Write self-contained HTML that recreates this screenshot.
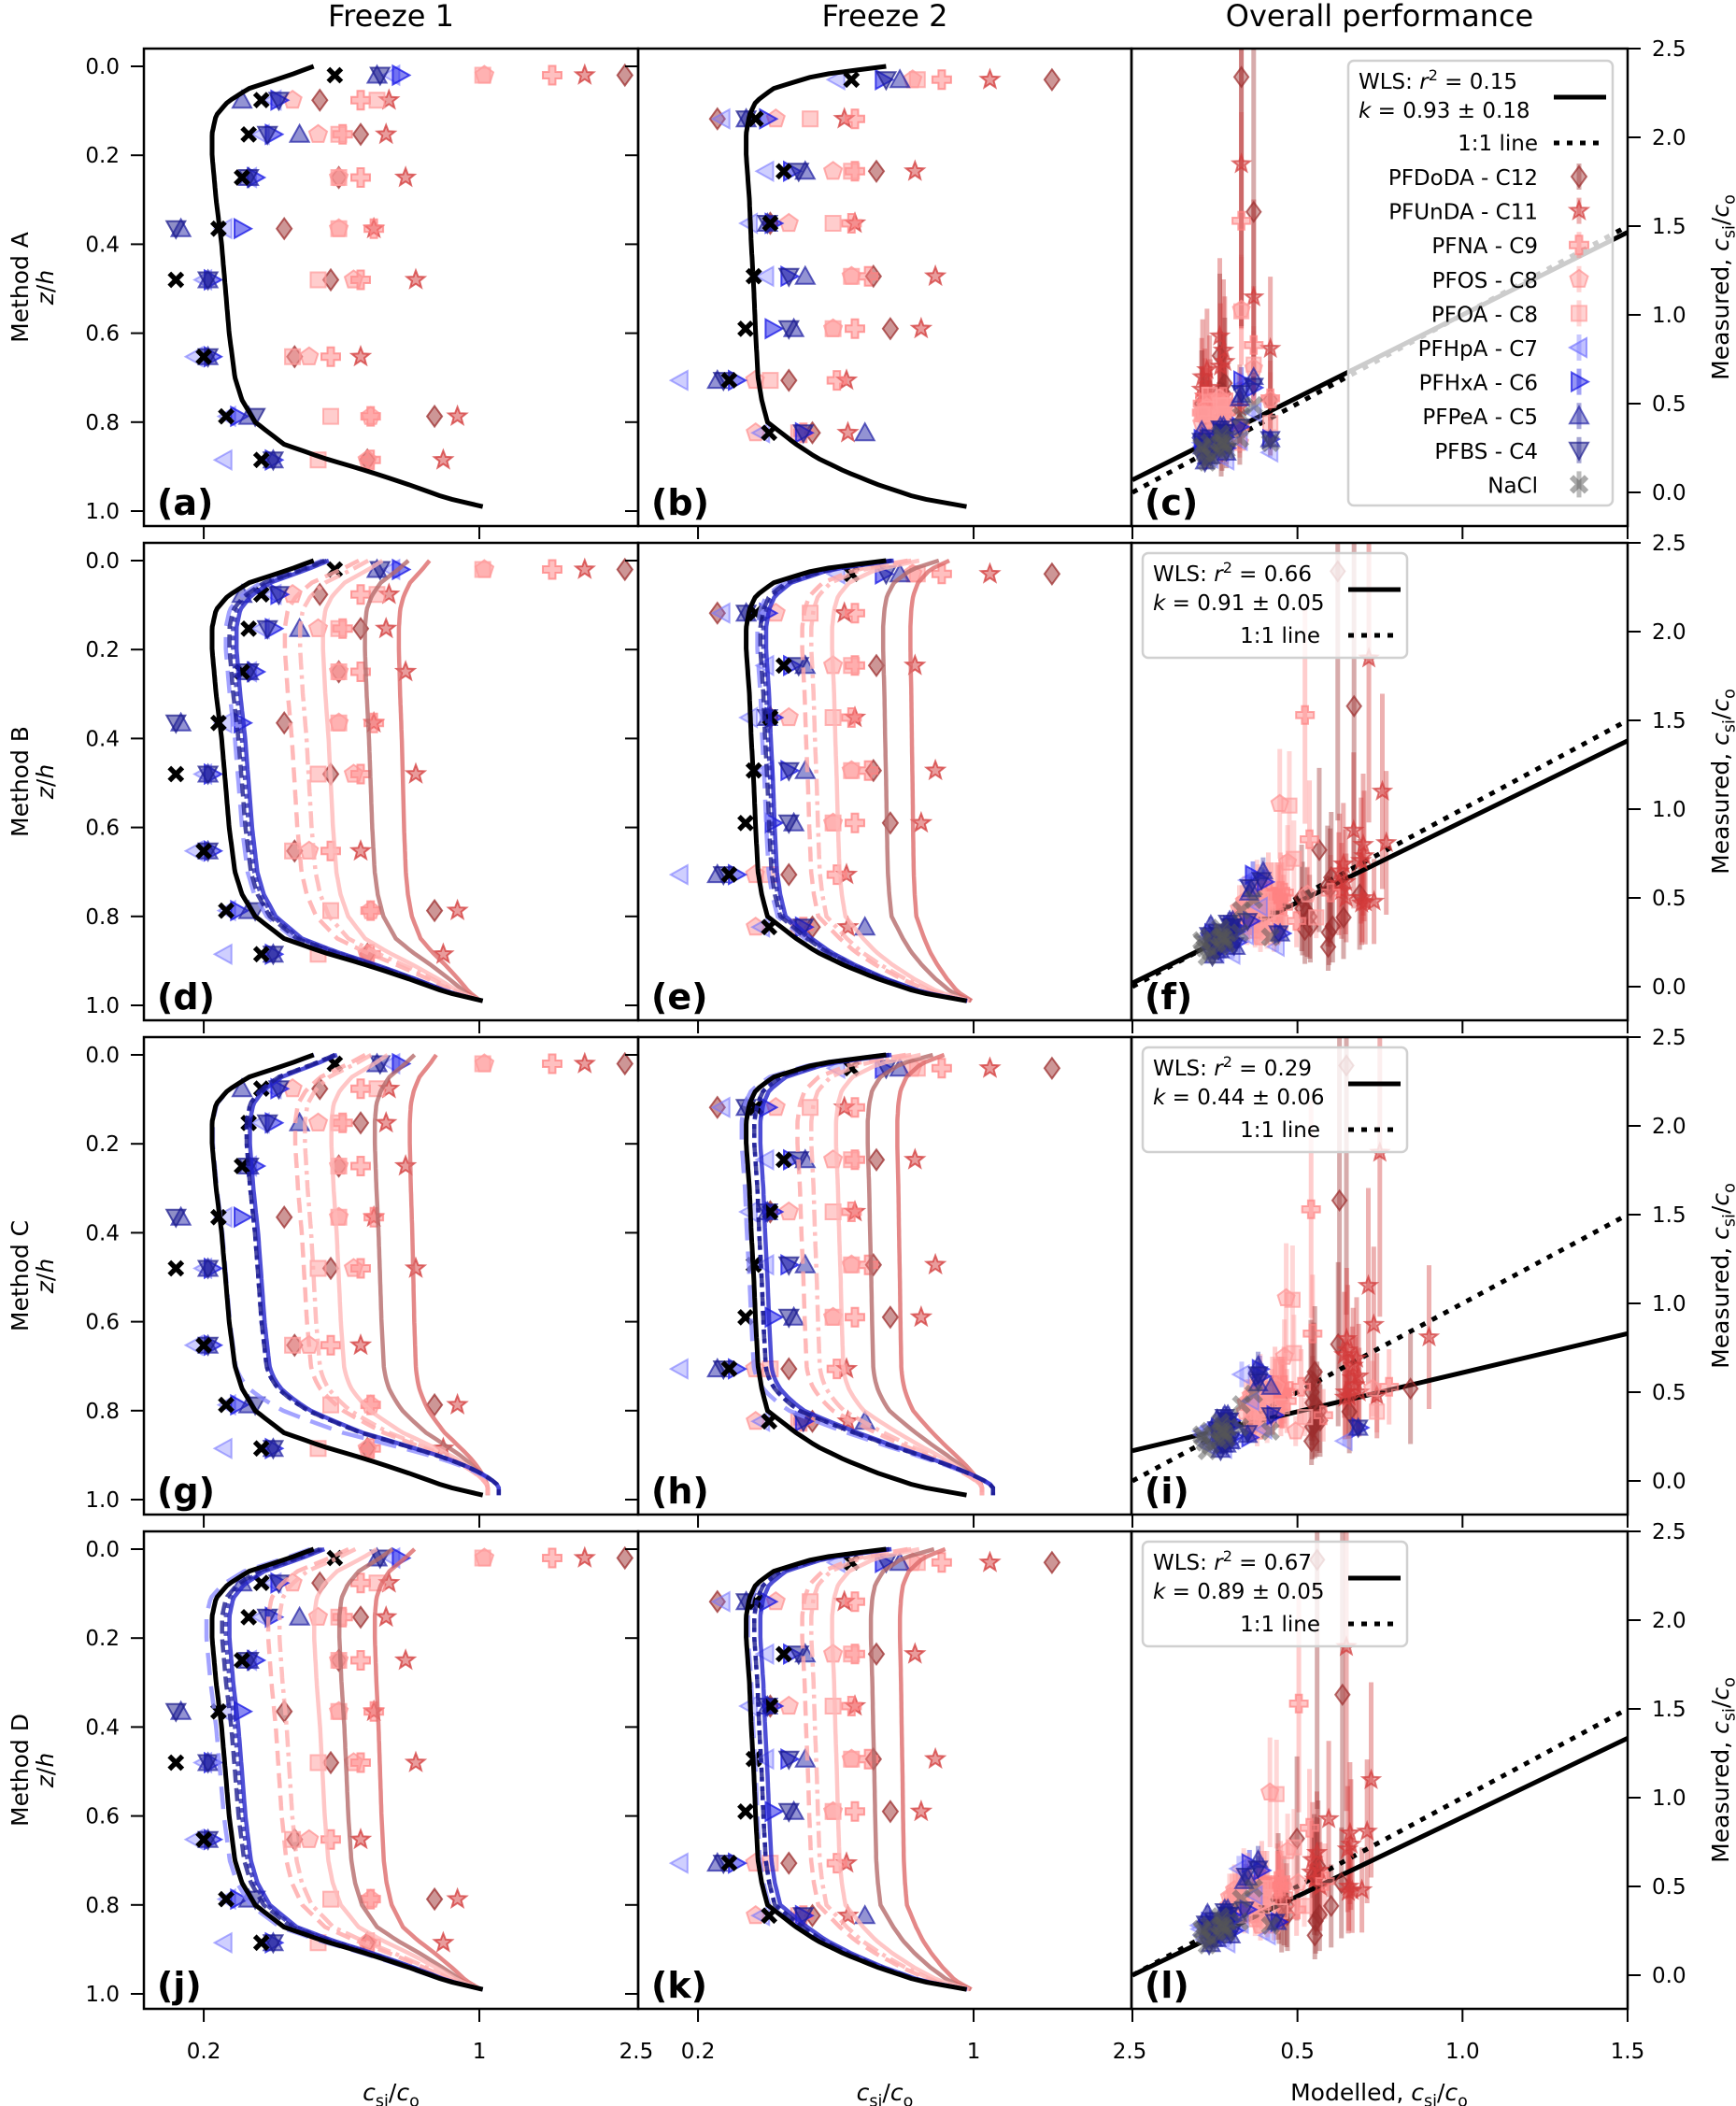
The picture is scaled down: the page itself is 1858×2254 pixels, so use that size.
<!DOCTYPE html>
<html><head><meta charset="utf-8"><style>
html,body{margin:0;padding:0;background:#fff;}
svg{display:block;font-family:"DejaVu Sans","Liberation Sans",sans-serif;}
</style></head><body>
<svg id="fig" xmlns="http://www.w3.org/2000/svg" width="1858" height="2254" viewBox="0 0 1858 2254"></svg>
<script>
// ---------- DATA ----------
const compounds = ['NaCl','PFBS','PFPeA','PFHxA','PFHpA','PFOA','PFOS','PFNA','PFUnDA','PFDoDA'];
const legendLabels = ['NaCl','PFBS - C4','PFPeA - C5','PFHxA - C6','PFHpA - C7','PFOA - C8','PFOS - C8','PFNA - C9','PFUnDA - C11','PFDoDA - C12'];
const methods = ['A','B','C','D'];
const f1Depths = [0.02,0.076,0.153,0.25,0.365,0.48,0.653,0.787,0.885];
const f1NaCl   = [0.43,0.28,0.26,0.25,0.218,0.17,0.2,0.228,0.28];
const f1PFBS   = [0.56,0.31,0.29,0.26,0.17,0.205,0.205,0.27,0.30];
const f1PFPeA  = [0.55,0.25,0.35,0.26,0.175,0.205,0.205,0.26,0.30];
const f1PFHxA  = [0.63,0.31,0.30,0.27,0.25,0.21,0.21,0.245,0.30];
const f1PFHpA  = [0.60,0.30,0.28,0.26,0.225,0.20,0.19,0.23,0.225];
const f1PFOA   = [1.02,0.55,0.44,0.44,0.44,0.39,0.336,0.42,0.39];
const f1PFOS   = [1.03,0.336,0.39,0.44,0.44,0.48,0.37,0.53,0.52];
const f1PFNA   = [1.53,0.50,0.45,0.50,0.54,0.50,0.42,0.53,0.53];
const f1PFUnDA = [1.85,0.59,0.58,0.65,0.54,0.69,0.50,0.88,0.81];
const f1PFDoDA = [2.34,0.394,0.50,0.44,0.32,0.42,0.34,0.77,0.52];
const f2Depths = [0.03,0.118,0.236,0.353,0.472,0.59,0.706,0.824];
const f2NaCl   = [0.49,0.28,0.33,0.305,0.277,0.264,0.24,0.303];
const f2PFBS   = [0.60,0.265,0.36,0.30,0.34,0.34,0.232,0.37];
const f2PFPeA  = [0.65,0.265,0.374,0.30,0.374,0.35,0.224,0.53];
const f2PFHxA  = [0.59,0.30,0.345,0.31,0.34,0.31,0.25,0.37];
const f2PFHpA  = [0.45,0.23,0.297,0.27,0.297,null,0.18,0.29];
const f2PFOA   = [0.72,0.385,0.49,0.44,0.49,0.44,0.305,0.36];
const f2PFOS   = [0.70,0.315,0.44,0.34,0.49,0.44,0.279,0.28];
const f2PFNA   = [0.83,0.50,0.50,0.49,0.54,0.50,0.45,0.37];
const f2PFUnDA = [1.10,0.47,0.71,0.50,0.80,0.736,0.476,0.48];
const f2PFDoDA = [1.58,0.224,0.567,0.305,0.557,0.615,0.34,0.39];
// model NaCl profiles
const zGrid  = [0,0.02,0.05,0.08,0.11,0.15,0.2,0.3,0.4,0.5,0.6,0.7,0.75,0.8,0.85,0.88,0.91,0.94,0.97,0.99];
const naclF1 = [0.38,0.33,0.26,0.23,0.215,0.21,0.21,0.215,0.222,0.227,0.232,0.24,0.25,0.27,0.32,0.40,0.52,0.66,0.82,1.02];
const naclF2 = [0.60,0.40,0.31,0.28,0.27,0.265,0.265,0.27,0.273,0.277,0.28,0.284,0.29,0.30,0.355,0.40,0.47,0.57,0.72,0.96];
// mid-depth modelled values per compound (PFBS..PFDoDA)
const midBF1 = [0.25,0.255,0.26,0.245,0.37,0.34,0.42,0.64,0.53];
const midCF1 = [0.275,0.275,0.28,0.228,0.38,0.36,0.44,0.68,0.56];
const midDF1 = [0.24,0.245,0.25,0.22,0.33,0.31,0.40,0.56,0.46];
const midBF2 = [0.30,0.305,0.31,0.295,0.40,0.38,0.45,0.70,0.60];
const midCF2 = [0.29,0.29,0.30,0.27,0.40,0.37,0.46,0.65,0.55];
const midDF2 = [0.29,0.29,0.30,0.28,0.40,0.38,0.45,0.66,0.56];
const errFrac = [0.05,0.12,0.12,0.12,0.12,0.3,0.3,0.4,0.5,0.6];
const wlsR2 = ['0.15','0.66','0.29','0.67'];
const wlsK  = [0.93,0.91,0.44,0.89];
const wlsKerr = ['0.18','0.05','0.06','0.05'];
const wlsB  = [0.07,0.02,0.17,0.0];
const profTicks = [0.0,0.2,0.4,0.6,0.8,1.0];
const scatYTicks = [0.0,0.5,1.0,1.5,2.0,2.5];
const scatXTicks = [0.5,1.0,1.5];

// ---------- STYLE ----------
const colors = ['#000','#1e1e8e','#2828a8','#1414e6','#7676ff','#ff9c9c','#ff9494','#ff8282','#d33a3a','#9c2e2e'];
const shapes = ['X','tdown','tup','tright','tleft','square','pent','plus','star','diamond'];
const dashes = [null,'14 6','5 5',null,'24 12','18 6 4 6','16 8',null,null,null];
const lineCols = ['#000','#1c1c90','#2a2ab0','#2222cc','#8c8cff','#ffb0b0','#ffa6a6','#ffb8b8','#dd6a6a','#b56a6a'];

const NS='http://www.w3.org/2000/svg';
const svg=document.getElementById('fig');
function el(tag, attrs, parent){const e=document.createElementNS(NS,tag);for(const k in attrs)e.setAttribute(k,attrs[k]);(parent||svg).appendChild(e);return e;}

const rowTops=[52,581,1110,1639], PH=511;
const colL=[154,683,1211], colR=[683,1211,1742];
const LOGMIN=Math.log10(0.141), PXDEC=422;
function px(v,c){return colL[c]+(Math.log10(v)-LOGMIN)*PXDEC;}
function pz(z,r){return rowTops[r]+19+z*476;}
function sx(v){return 1212+v*353.3;}
function sy(v,r){return rowTops[r]+(2.5-v)*190;}

const f1Data=[f1NaCl,f1PFBS,f1PFPeA,f1PFHxA,f1PFHpA,f1PFOA,f1PFOS,f1PFNA,f1PFUnDA,f1PFDoDA];
const f2Data=[f2NaCl,f2PFBS,f2PFPeA,f2PFHxA,f2PFHpA,f2PFOA,f2PFOS,f2PFNA,f2PFUnDA,f2PFDoDA];
const mids={B:[midBF1,midBF2],C:[midCF1,midCF2],D:[midDF1,midDF2]};

function interpLog(arr,z){
  for(let i=0;i<zGrid.length-1;i++){
    if(z<=zGrid[i+1]){const t=(z-zGrid[i])/(zGrid[i+1]-zGrid[i]);return Math.exp(Math.log(arr[i])*(1-t)+Math.log(arr[i+1])*t);}
  }
  return arr[arr.length-1];
}
function curveVal(m,f,ci,z){
  const base=f===0?naclF1:naclF2;
  const b=interpLog(base,z);
  if(m==='A'||ci===0)return b;
  const mid=mids[m][f][ci-1];
  const bm=interpLog(base,0.5);
  const s=Math.log(mid)/Math.log(bm);
  let v=Math.pow(b,s);
  if(m==='C'&&z>0.7){
    const w=Math.min(1,Math.pow((z-0.7)/0.27,2.2));
    const tgt=ci<=4?1.12:1.05;
    v=Math.exp(Math.log(v)*(1-w)+Math.log(tgt)*w);
  }
  return v;
}

function marker(g,shape,x,y,size,color,alpha){
  const s=size/2;let e;
  const common={fill:color,'fill-opacity':alpha,stroke:color,'stroke-opacity':Math.min(1,alpha+0.25),'stroke-width':2};
  if(shape==='X'){
    e=el('path',{d:`M${x-s},${y-s}L${x+s},${y+s}M${x+s},${y-s}L${x-s},${y+s}`,stroke:color,'stroke-width':size*0.38,'stroke-opacity':alpha,fill:'none'},g);
  } else {
    let pts=[];
    if(shape==='tdown')pts=[[-s,-s*0.8],[s,-s*0.8],[0,s]];
    else if(shape==='tup')pts=[[-s,s*0.8],[s,s*0.8],[0,-s]];
    else if(shape==='tright')pts=[[-s*0.8,-s],[-s*0.8,s],[s,0]];
    else if(shape==='tleft')pts=[[s*0.8,-s],[s*0.8,s],[-s,0]];
    else if(shape==='square')pts=[[-s*.8,-s*.8],[s*.8,-s*.8],[s*.8,s*.8],[-s*.8,s*.8]];
    else if(shape==='diamond')pts=[[0,-s*1.1],[s*0.8,0],[0,s*1.1],[-s*0.8,0]];
    else if(shape==='pent'){for(let k=0;k<5;k++){const a=-Math.PI/2+k*2*Math.PI/5;pts.push([s*Math.cos(a),s*Math.sin(a)]);}}
    else if(shape==='star'){for(let k=0;k<10;k++){const a=-Math.PI/2+k*Math.PI/5;const r=k%2?s*0.42:s;pts.push([r*Math.cos(a),r*Math.sin(a)]);}}
    else if(shape==='plus'){const a=s*0.35;pts=[[-a,-s],[a,-s],[a,-a],[s,-a],[s,a],[a,a],[a,s],[-a,s],[-a,a],[-s,a],[-s,-a],[-a,-a]];}
    e=el('polygon',Object.assign({points:pts.map(p=>(x+p[0]).toFixed(1)+','+(y+p[1]).toFixed(1)).join(' ')},common),g);
  }
  return e;
}

// clip paths
const defs=el('defs',{});
for(let r=0;r<4;r++)for(let c=0;c<3;c++){
  const cp=el('clipPath',{id:`cp${r}${c}`},defs);
  el('rect',{x:colL[c],y:rowTops[r],width:colR[c]-colL[c],height:PH},cp);
}

function text(str,x,y,size,anchor,parent,extra){
  const t=el('text',Object.assign({x:x,y:y,'font-size':size,'text-anchor':anchor||'middle',fill:'#000'},extra||{}),parent);
  t.textContent=str;return t;
}
function csiLabel(parent,x,y,prefix,size,rot){
  const t=el('text',{x:x,y:y,'font-size':size,'text-anchor':'middle',fill:'#000',transform:rot?`rotate(-90 ${x} ${y})`:''},parent);
  if(prefix){const a=el('tspan',{},t);a.textContent=prefix;}
  const c1=el('tspan',{'font-style':'italic'},t);c1.textContent='c';
  const s1=el('tspan',{'font-size':size*0.7,dy:size*0.25},t);s1.textContent='si';
  const sl=el('tspan',{dy:-size*0.25},t);sl.textContent='/';
  const c2=el('tspan',{'font-style':'italic'},t);c2.textContent='c';
  const s2=el('tspan',{'font-size':size*0.7,dy:size*0.25},t);s2.textContent='o';
  return t;
}

// column titles
const titles=['Freeze 1','Freeze 2','Overall performance'];
for(let c=0;c<3;c++){
  const t=text(titles[c],(colL[c]+colR[c])/2,28,32,'middle');
  
  
}

const letters='abcdefghijkl';
for(let r=0;r<4;r++){
  const m=methods[r];
  // ---------- profile panels ----------
  for(let f=0;f<2;f++){
    const c=f;
    const g=el('g',{'clip-path':`url(#cp${r}${c})`});
    
    
    const depths=f===0?f1Depths:f2Depths;
    const data=f===0?f1Data:f2Data;
    for(let ci=9;ci>=0;ci--){
      data[ci].forEach((v,i)=>{
        if(v==null)return;
        const mk=marker(g,shapes[ci],px(v,c),pz(depths[i],r),ci===0?14:20,colors[ci],ci===0?1:(ci===4?0.35:0.5));
        
        
      });
    }
    const order=m==='A'?[0]:[9,8,7,6,5,4,3,2,1,0];
    order.forEach(ci=>{
      let d='';
      for(let k=0;k<=120;k++){
        const z=k/120*0.99;
        const v=curveVal(m,f,ci,z);
        d+=(k?'L':'M')+px(v,c).toFixed(1)+','+pz(z,r).toFixed(1);
      }
      const attrs={d:d,fill:'none',stroke:lineCols[ci],'stroke-width':ci===0?5:4.5,'stroke-opacity':ci===0?1:0.8};
      if(dashes[ci])attrs['stroke-dasharray']=dashes[ci];
      const p=el('path',attrs,g);
      
      
    });
    const fr=el('rect',{x:colL[c],y:rowTops[r],width:colR[c]-colL[c],height:PH,fill:'none',stroke:'#000','stroke-width':2.5});
    
    
    profTicks.forEach(tv=>{
      const y=pz(tv,r);
      el('line',{x1:colL[c]-14,x2:colL[c],y1:y,y2:y,stroke:'#000','stroke-width':2});
      if(c===0){
        const tl=text(tv.toFixed(1),128,y+8,23,'end');
        
        
      }
    });
    [0.2,1].forEach(tv=>{
      const x=px(tv,c);
      el('line',{x1:x,x2:x,y1:rowTops[r]+PH,y2:rowTops[r]+PH+14,stroke:'#000','stroke-width':2});
    });
    if(r===3){
      [[0.2,'0.2'],[1,'1'],[2.5,'2.5']].forEach(([tv,lab])=>{
        const x=Math.min(px(tv,c),colR[c]-2);
        const tl=text(lab,x,2203,23,'middle');
        
        
      });
      const xl=csiLabel(svg,(colL[c]+colR[c])/2,2248,'',25,false);
      
      
    }
    const pl=text(`(${letters[r*3+c]})`,colL[c]+14,rowTops[r]+PH-12,38,'start',null,{'font-weight':'bold'});
    
    
  }
  const cy=rowTops[r]+PH/2;
  const rl=text('Method '+m,30,cy,25,'middle',null,{transform:`rotate(-90 30 ${cy})`});
  
  
  const zl=el('text',{x:57,y:cy,'font-size':25,'text-anchor':'middle',transform:`rotate(-90 57 ${cy})`});
  const za=el('tspan',{'font-style':'italic'},zl);za.textContent='z';
  const zb=el('tspan',{},zl);zb.textContent='/';
  const zc=el('tspan',{'font-style':'italic'},zl);zc.textContent='h';
  
  

  // ---------- scatter panel ----------
  const c=2;
  const g=el('g',{'clip-path':`url(#cp${r}${c})`});
  
  
  const pts=[];
  [0,1].forEach(f=>{
    const depths=f===0?f1Depths:f2Depths;const data=f===0?f1Data:f2Data;
    for(let ci=0;ci<10;ci++)data[ci].forEach((v,i)=>{if(v==null)return;pts.push([ci,curveVal(m,f,ci,depths[i]),v]);});
  });
  pts.forEach(([ci,mo,me])=>{
    if(ci===0)return;
    const e=me*errFrac[ci];
    const b=el('line',{x1:sx(mo),x2:sx(mo),y1:sy(me-e,r),y2:sy(me+e,r),stroke:colors[ci],'stroke-opacity':0.4,'stroke-width':5},g);
    
    
  });
  const one=el('line',{x1:sx(0),y1:sy(0,r),x2:sx(1.5),y2:sy(1.5,r),stroke:'#000','stroke-width':5,'stroke-dasharray':'6 8'},g);
  
  
  const wl=el('line',{x1:sx(0),y1:sy(wlsB[r],r),x2:sx(1.5),y2:sy(wlsB[r]+wlsK[r]*1.5,r),stroke:'#000','stroke-width':5},g);
  
  
  pts.slice().sort((a,b)=>b[0]-a[0]).forEach(([ci,mo,me])=>{
    const mk=marker(g,shapes[ci],sx(mo),sy(me,r),ci===0?16:19,ci===0?'#555':colors[ci],ci===0?0.5:(ci===4?0.3:0.45));
    
    
  });
  const fr=el('rect',{x:colL[c],y:rowTops[r],width:colR[c]-colL[c],height:PH,fill:'none',stroke:'#000','stroke-width':2.5});
  
  
  scatYTicks.forEach(tv=>{
    const y=sy(tv,r);
    el('line',{x1:1742,x2:1756,y1:y,y2:y,stroke:'#000','stroke-width':2});
    const tl=text(tv.toFixed(1),1768,y+8,23,'start');
    
    
  });
  [0,0.5,1.0,1.5].forEach(tv=>{
    const x=sx(tv);
    el('line',{x1:x,x2:x,y1:rowTops[r]+PH,y2:rowTops[r]+PH+14,stroke:'#000','stroke-width':2});
  });
  if(r===3){
    scatXTicks.forEach(tv=>{
      const tl=text(tv.toFixed(1),Math.min(sx(tv),1742),2203,23,'middle');
      
      
    });
    const xl=csiLabel(svg,1476,2248,'Modelled, ',25,false);
    
    
  }
  const ml=csiLabel(svg,1850,cy,'Measured, ',25,true);
  
  
  const pl=text(`(${letters[r*3+2]})`,colL[2]+14,rowTops[r]+PH-12,38,'start',null,{'font-weight':'bold'});
  
  

  // ---------- legend ----------
  const lg=el('g',{});
  
  
  const big=r===0;
  const bx=big?1443:1223, by=rowTops[r]+(big?13:11), bw=283, bh=big?476:112;
  el('rect',{x:bx,y:by,width:bw,height:bh,rx:6,fill:'#fff','fill-opacity':0.8,stroke:'#d0d0d0','stroke-width':2.5},lg);
  const tx=big?1646:1413;
  const t1=el('text',{x:big?1454:1234,y:by+30,'font-size':23},lg);
  const a1=el('tspan',{},t1);a1.textContent='WLS: ';
  const a2=el('tspan',{'font-style':'italic'},t1);a2.textContent='r';
  const a3=el('tspan',{'font-size':16,dy:-9},t1);a3.textContent='2';
  const a4=el('tspan',{dy:9},t1);a4.textContent=' = '+wlsR2[r];
  const t2=el('text',{x:big?1454:1234,y:by+61,'font-size':23},lg);
  const b1=el('tspan',{'font-style':'italic'},t2);b1.textContent='k';
  const b2=el('tspan',{},t2);b2.textContent=' = '+wlsK[r].toFixed(2)+' ± '+wlsKerr[r];
  const lx1=big?1663:1443, lx2=big?1719:1499;
  const wlh=el('line',{x1:lx1,x2:lx2,y1:by+39,y2:by+39,stroke:'#000','stroke-width':5},lg);
  
  
  const tl=text('1:1 line',tx,by+96,23,'end',lg);
  
  
  el('line',{x1:lx1,x2:lx2,y1:by+88,y2:by+88,stroke:'#000','stroke-width':5,'stroke-dasharray':'6 8'},lg);
  if(big){
    for(let k=0;k<10;k++){
      const ci=9-k;const y=by+124+k*36.6;
      const le=text(legendLabels[ci],tx,y+9,23,'end',lg);
      
      
      el('line',{x1:1690,x2:1690,y1:y-14,y2:y+14,stroke:ci===0?'#555':colors[ci],'stroke-opacity':0.4,'stroke-width':5},lg);
      marker(lg,shapes[ci],1690,y,ci===0?16:20,ci===0?'#555':colors[ci],ci===0?0.5:0.45);
    }
  }
}
</script>
</body></html>
